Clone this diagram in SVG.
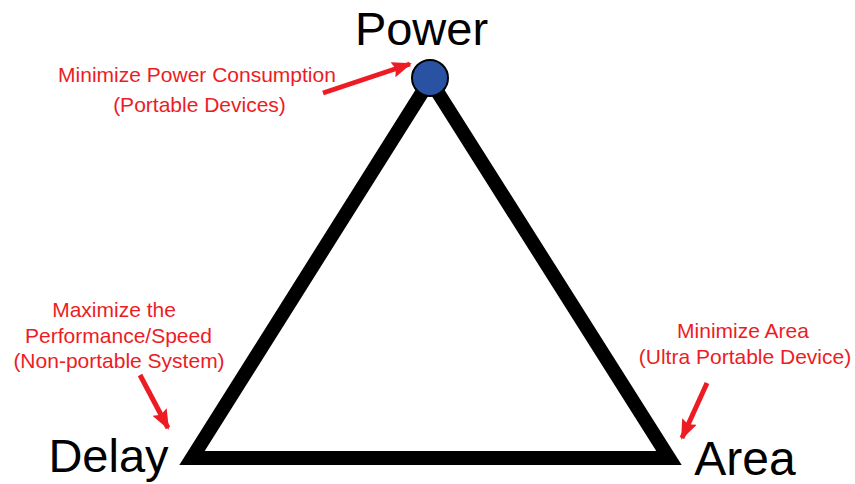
<svg xmlns="http://www.w3.org/2000/svg" width="855" height="484" viewBox="0 0 855 484">
<defs>
<marker id="ah" markerWidth="4" markerHeight="3.2" refX="3.6" refY="1.6" orient="auto" markerUnits="strokeWidth">
<path d="M0,0 L4,1.6 L0,3.2 L0.6,1.6 Z" fill="#ed1c24"/>
</marker>
<style>
.big{font-family:"Liberation Sans",Arial,sans-serif;font-size:47px;fill:#000;text-anchor:middle}
.note{font-family:"Liberation Sans",Arial,sans-serif;font-size:21px;fill:#ed1c24;text-anchor:middle}
.arr{stroke:#ed1c24;stroke-width:5;fill:none;marker-end:url(#ah)}
</style>
</defs>
<rect width="855" height="484" fill="#fff"/>
<g id="triangle">
<polygon points="430,80 192,458 669,458" fill="none" stroke="#000" stroke-width="14" stroke-linejoin="miter"/>
</g>
<g id="power">
<circle cx="430" cy="78" r="18" fill="#2a52a3" stroke="#000" stroke-width="2"/>
<text class="big" x="421.5" y="45">Power</text>
</g>
<g id="delay"><text class="big" x="108.5" y="472">Delay</text></g>
<g id="area"><text class="big" x="745" y="475" style="font-size:48px">Area</text></g>
<g id="note-power">
<text class="note" x="197" y="82">Minimize Power Consumption</text>
<text class="note" x="199.5" y="112">(Portable Devices)</text>
</g>
<g id="note-delay">
<text class="note" x="114" y="317">Maximize the</text>
<text class="note" x="118.5" y="343">Performance/Speed</text>
<text class="note" x="119" y="368">(Non-portable System)</text>
</g>
<g id="note-area">
<text class="note" x="743" y="338">Minimize Area</text>
<text class="note" x="745" y="364">(Ultra Portable Device)</text>
</g>
<g id="connectors">
<line class="arr" x1="323" y1="93" x2="410" y2="64"/>
<line class="arr" x1="140" y1="375" x2="168" y2="428"/>
<line class="arr" x1="707" y1="383" x2="682" y2="438"/>
</g>
</svg>
